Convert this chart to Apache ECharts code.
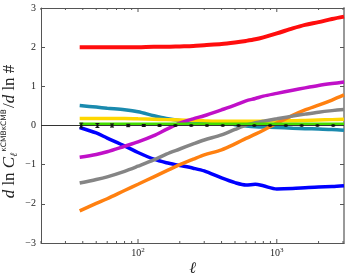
<!DOCTYPE html>
<html><head><meta charset="utf-8">
<script src="https://cdn.jsdelivr.net/npm/echarts@6/dist/echarts.min.js"></script>
<style>html,body{margin:0;padding:0;background:#fff}#c{width:349px;height:274px}</style>
</head><body><div id="c"></div>
<script>
const ells = [38,50,60,80,100,130,160,200,250,300,400,500,600,700,800,1000,1300,1600,2000,2500,3050];
const redVals     = [2.00,2.00,2.00,2.00,2.00,2.01,2.01,2.02,2.03,2.05,2.08,2.12,2.16,2.20,2.25,2.35,2.48,2.57,2.64,2.72,2.78];
const magentaVals = [-0.81,-0.74,-0.67,-0.53,-0.42,-0.26,-0.10,0.06,0.17,0.25,0.40,0.52,0.63,0.69,0.75,0.82,0.90,0.96,1.02,1.07,1.11];
const grayVals    = [-1.47,-1.38,-1.31,-1.17,-1.04,-0.88,-0.73,-0.60,-0.47,-0.37,-0.24,-0.10,0.01,0.07,0.11,0.17,0.24,0.29,0.34,0.38,0.41];
const orangeVals  = [-2.18,-1.99,-1.87,-1.66,-1.50,-1.31,-1.16,-1.00,-0.86,-0.75,-0.62,-0.47,-0.33,-0.22,-0.12,0.06,0.26,0.40,0.52,0.65,0.78];
const blueVals    = [-0.05,-0.19,-0.32,-0.52,-0.69,-0.86,-0.95,-1.02,-1.09,-1.16,-1.34,-1.46,-1.52,-1.50,-1.54,-1.62,-1.61,-1.59,-1.57,-1.56,-1.54];
const tealVals    = [0.51,0.47,0.44,0.40,0.35,0.25,0.18,0.13,0.10,0.09,0.06,0.02,-0.01,-0.03,-0.04,-0.05,-0.07,-0.08,-0.09,-0.10,-0.12];
const yellowVals  = [0.18,0.18,0.18,0.18,0.17,0.16,0.15,0.14,0.13,0.12,0.11,0.11,0.11,0.11,0.11,0.12,0.12,0.13,0.14,0.15,0.16];
const greenVals   = [0.04,0.04,0.04,0.04,0.04,0.04,0.04,0.04,0.04,0.04,0.04,0.04,0.04,0.04,0.04,0.04,0.04,0.04,0.04,0.04,0.04];
const dataElls = [39,51,65,85,110,143,186,242,314,408,530,689,895,1163,1511,1963,2550];
const dataVals = [0,0,0,0,0,0,0,0,0,0,0,0,0,0,0,0,0];
const dataErrs = [0.06,0.05,0.04,0.03,0.025,0.02,0.015,0.012,0.01,0.01,0.01,0.01,0.01,0.01,0.01,0.01,0.01];
const minorTicks = [20,30,40,50,60,70,80,90,200,300,400,500,600,700,800,900,2000,3000];
const majorTicks = [100,1000];

const FONT = 'Liberation Serif';
const pair = v => ells.map((e,i)=>[e,v[i]]);
function line(name, vals, color, w, z){
  return {name, type:'line', data:pair(vals), showSymbol:false, symbol:'none', smooth:0.3,
    lineStyle:{color, width:w}, z, silent:true};
}
function isMajor(v){ return majorTicks.some(m=>Math.abs(m-v)/m<1e-6); }
const chart = echarts.init(document.getElementById('c'), null, {renderer:'canvas'});
chart.setOption({
  animation:false,
  grid:{left:41, right:5, top:8, bottom:31, show:false, containLabel:false, outerBoundsMode:'none'},
  xAxis:[{type:'log', logBase:10, min:20, max:3050, position:'bottom',
    axisLine:{show:true, onZero:false, lineStyle:{color:'#555', width:1}},
    axisTick:{show:false},
    splitLine:{show:false}, minorTick:{show:false},
    axisLabel:{show:false},
    name:'ℓ', nameLocation:'middle', nameGap:18, nameMoveOverlap:false,
    nameTextStyle:{fontFamily:FONT, fontStyle:'italic', fontSize:16, color:'#222'}},
   {type:'log', logBase:10, min:20, max:3050, position:'top',
    axisLine:{show:true, onZero:false, lineStyle:{color:'#555', width:1}},
    axisTick:{show:false},
    axisLabel:{show:false}, splitLine:{show:false}}],
  yAxis:[{type:'value', min:-3, max:3, interval:1, position:'left',
    axisLine:{show:true, onZero:false, lineStyle:{color:'#555', width:1}},
    axisTick:{show:true, inside:true, length:4, lineStyle:{color:'#555'}},
    splitLine:{show:false},
    axisLabel:{margin:5, fontFamily:FONT, fontSize:10, color:'#222',
      formatter:v=> (v<0?'\u2212'+(-v):''+v)},
    name:'{i|d} ln {i|C}{sub|ℓ}{sup|κCMBκCMB}{n|/}{i|d} ln #',
    nameLocation:'middle', nameGap:22, nameRotate:90, nameMoveOverlap:false,
    nameTextStyle:{fontFamily:FONT, fontSize:17, color:'#222', padding:[0,12,0,0],
      rich:{i:{fontFamily:FONT, fontSize:17, fontStyle:'italic', color:'#222'},
            n:{fontFamily:FONT, fontSize:17, color:'#222'},
            sub:{fontFamily:FONT, fontSize:10, fontStyle:'italic', color:'#222', padding:[9,0,0,0]},
            sup:{fontFamily:'DejaVu Sans', fontSize:7.5, color:'#222', padding:[0,1,11,1]}}}},
   {type:'value', min:-3, max:3, interval:1, position:'right',
    axisLine:{show:true, onZero:false, lineStyle:{color:'#999', width:2}},
    axisTick:{show:true, inside:true, length:4, lineStyle:{color:'#555'}},
    axisLabel:{show:false}, splitLine:{show:false}}],
  series:[
    line('red', redVals, '#ff0d0d', 4, 2),
    line('teal', tealVals, '#1a8aae', 3.5, 3),
    line('yellow', yellowVals, '#ffd700', 3.5, 4),
    line('blue', blueVals, '#0000ff', 3.5, 5),
    line('orange', orangeVals, '#ff8010', 3.5, 6),
    line('gray', grayVals, '#858585', 3.5, 7),
    line('magenta', magentaVals, '#c010c8', 3.5, 8),
    line('green', greenVals, '#44dd00', 3, 9),
    {type:'line', data:[[20,0],[3050,0]], symbol:'none', lineStyle:{color:'#333', width:1}, z:9, silent:true},
    {type:'custom', z:10, silent:true,
      data: dataElls.map((e,i)=>[e,dataVals[i],dataErrs[i]]),
      renderItem:(params, api)=>{
        const x = api.value(0), y = api.value(1), er = api.value(2);
        const p0 = api.coord([x, y-er]), p1 = api.coord([x, y+er]);
        const st = {stroke:'#111', lineWidth:1};
        return {type:'group', children:[
          {type:'line', shape:{x1:p0[0], y1:p0[1], x2:p1[0], y2:p1[1]}, style:st},
          {type:'line', shape:{x1:p0[0]-2, y1:p0[1], x2:p0[0]+2, y2:p0[1]}, style:st},
          {type:'line', shape:{x1:p1[0]-2, y1:p1[1], x2:p1[0]+2, y2:p1[1]}, style:st}
        ]};
      }},
    {type:'scatter', data: dataElls.map((e,i)=>[e,dataVals[i]]), symbolSize:3,
      itemStyle:{color:'#111'}, z:11, silent:true},
    {type:'custom', z:12, silent:true, clip:false,
      data: minorTicks.concat(majorTicks).map(v=>[v,0]),
      renderItem:(params, api)=>{
        const v = api.value(0);
        const major = isMajor(v);
        const len = major ? 4 : 2;
        const b = api.coord([v,-3]), t = api.coord([v,3]);
        const st = {stroke:'#555', lineWidth:1};
        const ch = [
          {type:'line', shape:{x1:b[0], y1:b[1], x2:b[0], y2:b[1]-len}, style:st},
          {type:'line', shape:{x1:t[0], y1:t[1], x2:t[0], y2:t[1]+len}, style:st}
        ];
        if (major) {
          ch.push({type:'text', x:b[0], y:b[1]+4, style:{
            text:'10{s|'+Math.round(Math.log10(v))+'}', align:'center', verticalAlign:'top',
            font:'10px "'+FONT+'"', fill:'#222',
            rich:{s:{fontSize:7, fontFamily:FONT, fill:'#222', padding:[0,0,5,0]}}}});
        }
        return {type:'group', children:ch};
      }}
  ]
});
</script></body></html>
